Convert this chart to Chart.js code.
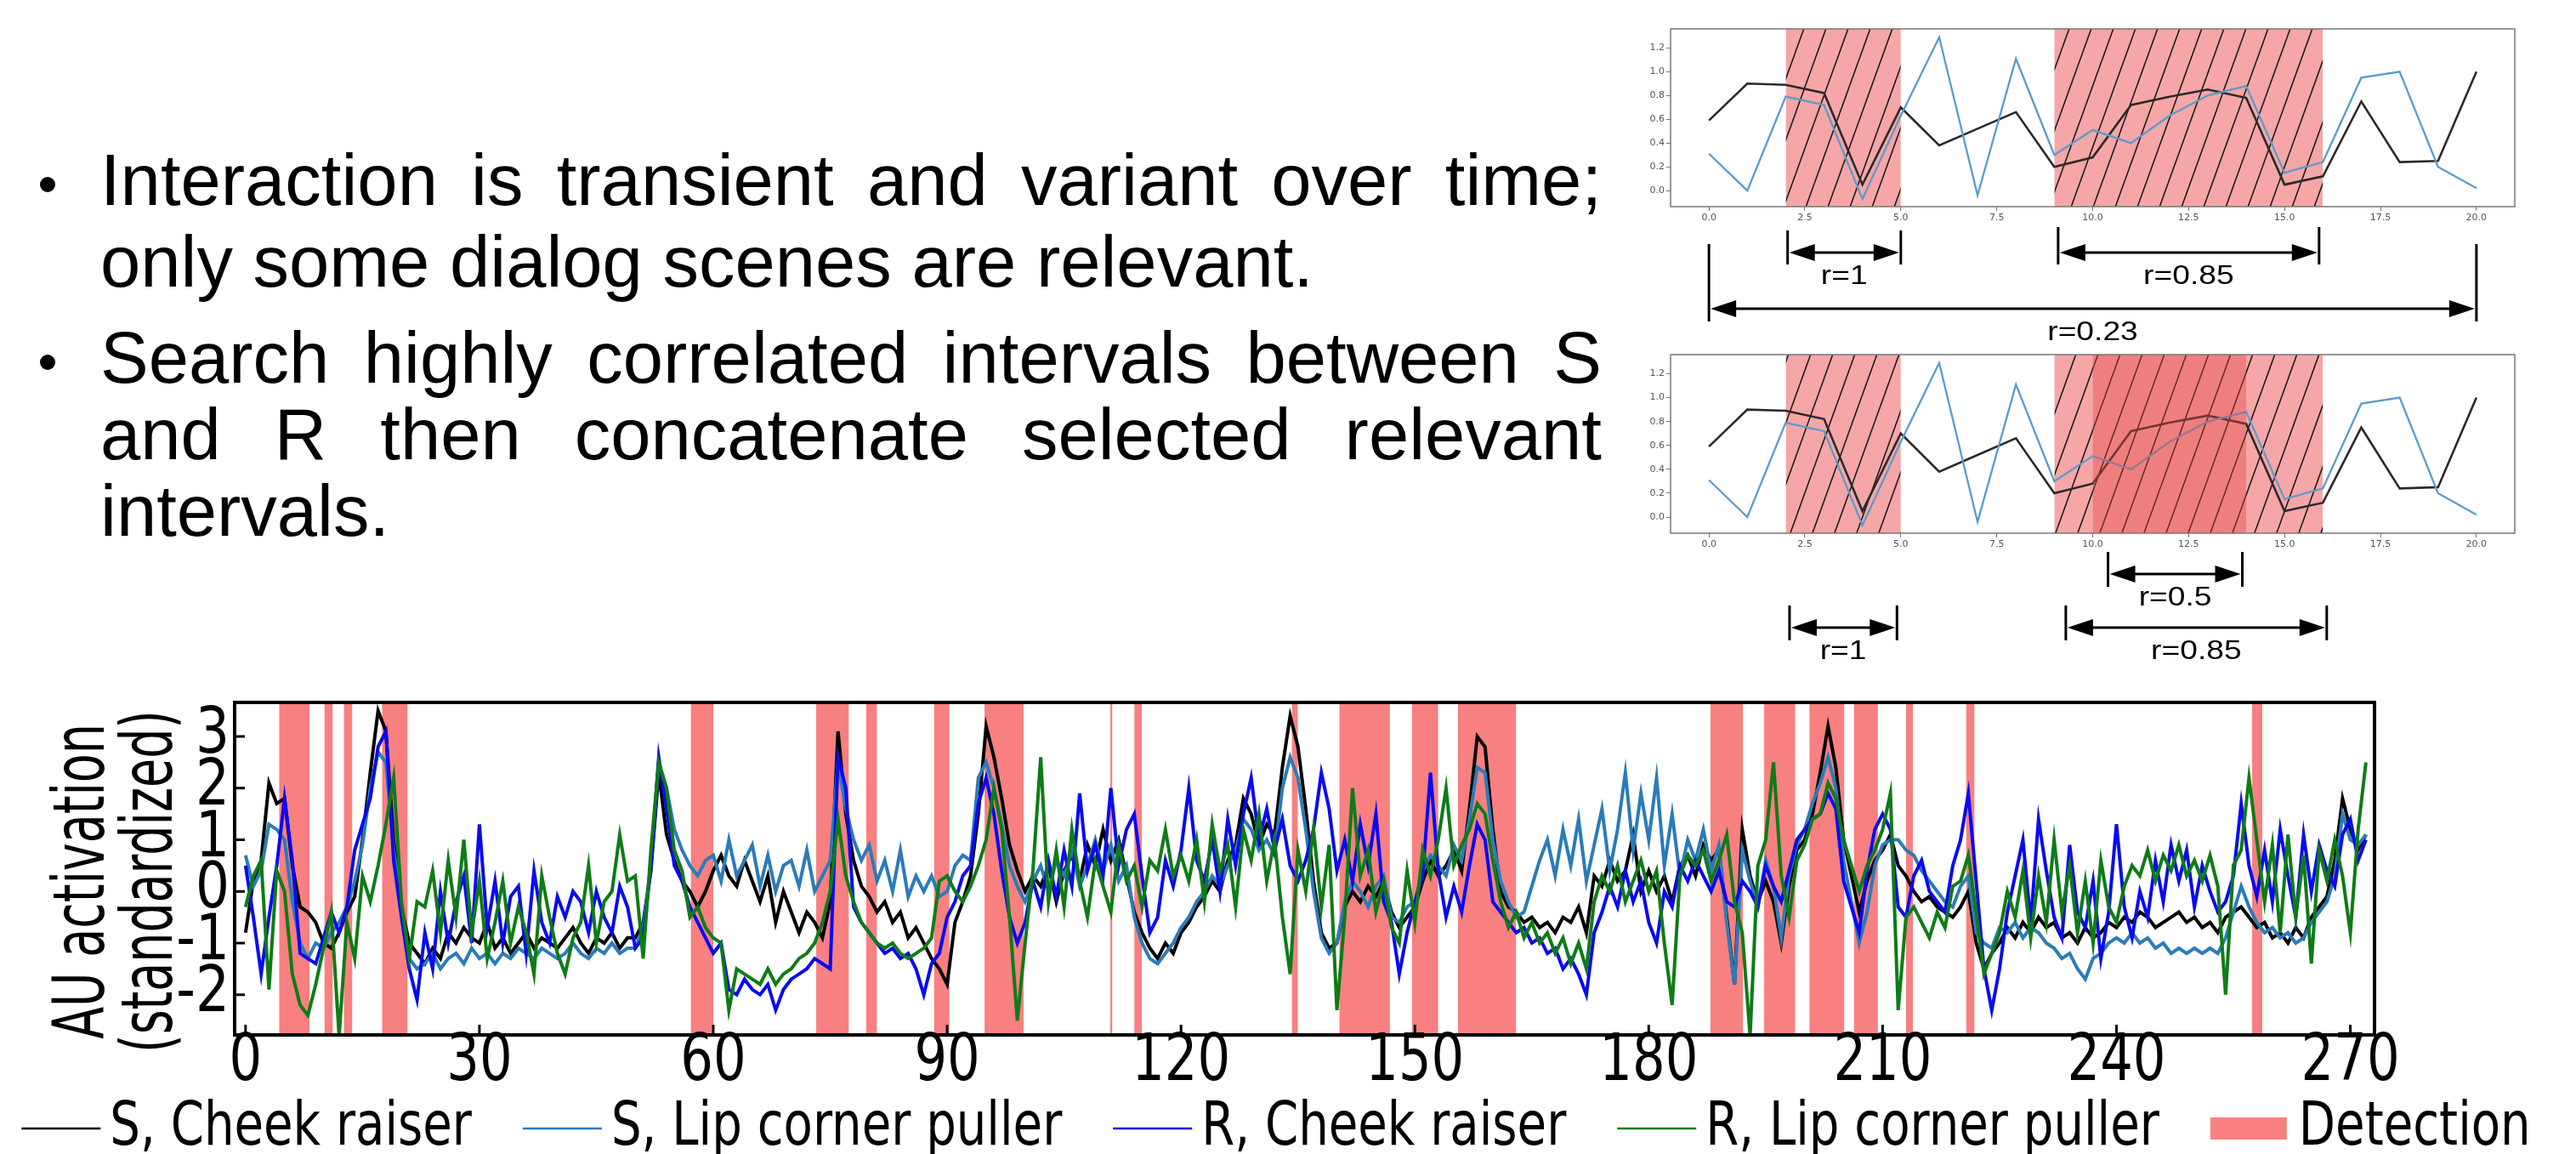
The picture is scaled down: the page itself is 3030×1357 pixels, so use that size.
<!DOCTYPE html>
<html>
<head>
<meta charset="utf-8">
<script src="https://cdn.jsdelivr.net/npm/chart.js@4.4.1/dist/chart.umd.min.js"></script>
<style>
body { margin:0; width:3030px; height:1357px; overflow:hidden; background:#fff; position:relative; }
.txt { position:absolute; left:118px; width:1766px; font-family:'Liberation Sans', Arial, sans-serif; font-size:85px; line-height:96px; text-align:justify; color:#000; }
.txt p { margin:0; position:relative; }
.dot { position:absolute; left:-71px; top:44px; width:18px; height:18px; border-radius:50%; background:#000; }
canvas { position:absolute; }
</style>
</head>
<body>
<div class="txt" style="top:164px"><p><span class="dot"></span>Interaction is transient and variant over time; only some dialog scenes are relevant.</p></div>
<div class="txt" style="top:376px;line-height:90px"><p><span class="dot" style="top:41px"></span>Search highly correlated intervals between S and R then concatenate selected relevant intervals.</p></div>

<canvas id="c1" width="1130" height="405" style="left:1900px;top:0px"></canvas>
<canvas id="c2" width="1130" height="380" style="left:1900px;top:405px"></canvas>
<canvas id="c3" width="3030" height="567" style="left:0px;top:790px"></canvas>

<script>
// ---- small example charts (top right) ----
const smallT = [0,1,2,3,4,5,6,7,8,9,10,11,12,13,14,15,16,17,18,19,20];
const smallS = [0.59,0.90,0.89,0.82,0.05,0.70,0.38,0.52,0.66,0.20,0.28,0.72,0.79,0.85,0.78,0.05,0.12,0.75,0.24,0.25,1.00];
const smallR = [0.31,0.00,0.79,0.72,-0.07,0.63,1.29,-0.04,1.11,0.30,0.51,0.40,0.63,0.80,0.88,0.15,0.24,0.95,1.00,0.20,0.02];
const smallXTicks = [0,2.5,5,7.5,10,12.5,15,17.5,20];
const smallYTicks = [0,0.2,0.4,0.6,0.8,1.0,1.2];
const hatched = [[2,5],[9,16]];
const overlap = [[10,14]];
const arrows1 = [[2.05,5,'r=1'],[9.1,15.9,'r=0.85'],[0,20,'r=0.23']];
const arrows2 = [[10.4,13.9,'r=0.5'],[2.1,4.9,'r=1'],[9.3,16.1,'r=0.85']];

// ---- AU activation (bottom) ----
const xTicks = [0,30,60,90,120,150,180,210,240,270];
const yTicks = [-2,-1,0,1,2,3];
const seriesNames = ['S, Cheek raiser','S, Lip corner puller','R, Cheek raiser','R, Lip corner puller'];
const detection = [[4.3,8.2],[10.1,11.2],[12.6,13.7],[17.5,20.8],[57.1,60.0],[73.2,77.4],[79.6,81.0],[88.3,90.3],[94.8,99.8],[110.9,111.2],[114.0,115.0],[134.2,135.0],[140.3,146.8],[149.6,153.0],[155.5,163.0],[187.9,192.1],[194.8,198.8],[200.6,205.1],[206.3,209.4],[213.0,213.9],[220.7,221.8],[257.4,258.7]];

const sCheek = [
-0.8,0.2,0.6,2.1,1.7,1.8,0.5,-0.3,-0.4,-0.6,
-1.0,-1.1,-0.8,-0.4,-0.1,1.0,2.3,3.5,3.1,1.0,
-0.3,-1.0,-1.2,-1.4,-1.1,-1.3,-0.8,-1.0,-0.7,-0.9,
-1.0,-0.6,-1.1,-0.9,-1.2,-1.0,-0.8,-1.1,-0.9,-1.0,
-1.1,-0.9,-0.7,-1.0,-1.2,-0.9,-1.0,-0.8,-1.1,-0.9,
-0.9,-0.6,0.4,2.3,1.1,0.6,0.2,0.0,-0.3,0.0,
0.4,0.7,0.3,0.1,0.6,0.2,-0.2,0.3,-0.6,0.0,
-0.4,-0.8,-0.4,-0.6,-0.9,-0.2,3.1,1.5,0.6,0.1,
-0.1,-0.4,-0.2,-0.6,-0.4,-0.9,-0.7,-1.0,-1.3,-1.5,
-1.8,-0.6,-0.2,0.3,1.5,3.2,2.6,1.8,0.9,0.4,
0.0,0.3,0.1,0.5,-0.2,0.4,0.7,0.2,0.9,0.5,
1.2,0.6,1.0,0.3,-0.4,-0.8,-1.1,-1.3,-1.0,-1.2,
-0.8,-0.6,-0.3,-0.1,0.2,0.0,0.6,0.9,1.8,1.5,
0.9,1.3,1.1,2.4,3.4,2.8,1.6,0.2,-0.8,-1.1,
-1.0,-0.3,0.0,-0.2,0.1,-0.1,0.2,-0.4,-0.7,-0.5,
-0.3,0.2,0.6,0.3,0.5,0.8,0.4,1.6,3.0,2.8,
1.2,0.0,-0.3,-0.4,-0.6,-0.5,-0.7,-0.6,-0.8,-0.5,
-0.6,-0.3,-0.8,0.3,0.1,0.6,0.2,0.4,1.1,0.0,
0.4,0.0,0.3,-0.2,0.5,0.7,0.3,0.9,0.6,0.8,
-0.5,-1.8,1.2,0.3,-0.2,0.2,-0.2,-1.0,0.1,0.8,
1.0,1.5,2.3,3.2,2.4,1.0,0.3,-0.4,0.2,0.6,
0.8,1.1,0.5,0.3,0.0,-0.2,-0.1,-0.3,-0.4,-0.5,
-0.3,0.0,-1.0,-1.5,-1.2,-1.0,-0.7,-0.9,-0.6,-0.8,
-0.5,-0.7,-0.6,-0.9,-0.8,-1.0,-0.7,-0.9,-0.8,-0.6,
-0.7,-0.5,-0.6,-0.4,-0.5,-0.7,-0.6,-0.5,-0.4,-0.6,
-0.5,-0.7,-0.6,-0.8,-0.5,-0.4,-0.3,-0.5,-0.7,-0.6,
-0.9,-0.8,-1.0,-0.7,-0.9,-0.5,-0.3,-0.1,0.6,1.8,
1.2,0.8,1.1];

const sLip = [
0.7,0.1,0.4,1.3,1.2,1.0,-0.2,-1.0,-1.3,-1.0,
-1.1,-0.8,-0.6,-0.3,0.2,0.9,2.0,2.7,2.5,0.8,
-0.3,-1.3,-1.5,-1.4,-1.2,-1.5,-1.3,-1.2,-1.4,-1.1,
-1.3,-1.2,-1.4,-1.2,-1.3,-1.1,-1.2,-1.3,-1.1,-1.2,
-1.3,-1.2,-1.0,-1.2,-1.3,-1.1,-1.2,-1.0,-1.2,-1.1,
-1.1,-0.7,0.5,2.5,2.0,1.2,0.8,0.5,0.3,0.6,
0.7,0.2,1.0,0.3,0.6,0.9,0.1,0.7,0.0,0.5,
0.6,0.1,0.8,0.0,0.3,0.6,2.5,1.6,1.0,0.6,
0.9,0.2,0.6,0.0,0.8,-0.1,0.3,0.0,0.3,-0.1,
0.0,0.5,0.7,0.6,2.2,2.5,2.0,1.3,0.5,0.1,
-0.2,0.2,0.5,0.0,0.6,0.3,0.8,0.1,0.5,1.0,
0.4,0.9,0.2,0.5,-0.5,-1.0,-1.3,-1.4,-1.2,-1.0,
-0.7,-0.5,-0.2,0.0,0.3,0.1,0.5,0.8,1.4,1.2,
0.8,1.0,0.7,2.0,2.6,2.2,1.2,0.0,-0.9,-1.2,
-1.0,-0.2,0.2,0.0,-0.3,0.1,0.3,-0.5,-0.6,-0.3,
-0.2,0.4,0.7,0.5,0.3,0.9,0.6,1.4,2.4,2.3,
1.0,0.2,-0.2,-0.5,-0.4,0.1,0.6,1.0,0.3,1.2,
0.5,1.4,0.2,0.9,1.6,0.4,1.2,2.3,0.8,1.9,
1.0,2.2,0.5,1.5,0.3,1.0,0.6,1.2,0.4,0.9,
-0.6,-1.8,0.8,0.2,-0.3,0.6,0.1,-0.9,0.3,0.9,
1.2,1.7,2.1,2.6,2.0,0.6,-0.2,-1.0,-0.4,0.5,
0.9,1.0,1.0,0.8,0.7,0.4,0.2,0.0,-0.2,-0.3,
0.1,0.3,-0.8,-1.0,-1.1,-0.7,-0.8,-0.6,-0.9,-0.7,
-0.8,-1.0,-1.1,-1.3,-1.2,-1.5,-1.7,-1.3,-1.2,-1.0,
-0.9,-1.0,-0.8,-1.0,-0.9,-1.1,-1.0,-1.2,-1.1,-1.2,
-1.1,-1.2,-1.1,-1.2,-0.9,-0.4,0.1,-0.3,-0.6,-0.8,
-0.7,-0.9,-0.8,-1.0,-0.9,-0.6,-0.4,-0.2,0.3,1.5,
1.0,0.9,1.1];

const rCheek = [
0.5,-0.5,-1.6,-0.5,0.5,1.8,0.6,-1.2,-1.3,-1.4,
-0.9,-0.4,-0.8,-0.3,0.8,1.3,1.8,2.8,3.1,0.6,
-0.5,-1.5,-2.1,-0.8,-1.5,0.0,-1.0,-0.2,0.3,-1.0,
1.3,-0.7,0.2,-1.0,-0.1,0.1,-1.2,0.4,-0.6,-1.0,
-0.1,-0.5,0.0,-0.2,-0.8,0.0,-0.5,-0.8,0.1,-0.3,
-1.1,-0.9,0.5,2.6,1.6,0.5,0.2,-0.3,-0.6,-0.9,
-1.2,-1.0,-1.9,-2.0,-1.7,-1.9,-2.0,-1.8,-2.3,-1.9,
-1.7,-1.6,-1.5,-1.3,-1.4,-1.5,2.6,2.0,-0.3,-0.6,
-0.8,-1.0,-1.2,-1.1,-1.3,-1.2,-1.5,-2.0,-1.4,-1.2,
-0.5,-0.2,0.3,0.5,1.7,2.2,1.5,0.4,-0.5,-1.0,
-0.6,0.2,-0.3,0.6,-0.1,0.8,0.1,1.9,0.4,0.9,
0.3,2.0,0.5,1.2,1.5,0.3,-0.8,-0.5,0.6,0.1,
0.8,2.0,0.6,0.2,1.0,0.0,1.4,0.5,1.5,2.2,
1.0,1.6,0.8,1.4,0.5,0.2,0.6,1.2,2.3,1.6,
0.4,1.0,0.2,1.3,0.5,1.5,-0.2,-0.6,-1.6,-0.8,
-0.2,0.3,2.3,0.4,-0.5,0.1,-0.4,0.5,1.3,1.0,
-0.2,-0.4,-0.6,-0.8,-0.7,-1.0,-0.9,-1.2,-1.1,-1.5,
-1.3,-1.6,-2.0,-0.8,-0.4,0.1,-0.3,0.4,-0.2,0.2,
-0.6,-1.0,0.0,-0.3,0.5,0.2,0.6,0.3,0.0,0.4,
-0.2,-0.3,0.2,0.0,-0.3,0.5,0.1,-0.2,0.4,1.0,
1.2,1.4,1.5,1.9,1.6,0.2,-0.3,-0.8,0.4,1.2,
1.5,1.2,-0.3,-0.5,0.3,0.6,0.0,-0.2,-0.4,0.5,
1.0,1.9,0.2,-1.5,-2.3,-1.5,-0.4,0.3,1.0,-0.6,
1.4,0.4,-0.5,-0.9,0.9,-0.4,-0.7,0.2,-1.3,-0.4,
1.3,-0.3,-0.9,0.0,-0.5,0.6,-0.2,0.9,0.2,0.8,
-0.3,0.5,0.0,-0.4,-0.2,0.3,1.7,0.5,-0.1,0.8,
-0.2,1.2,0.3,-0.5,1.1,0.0,0.9,0.4,0.1,1.1,
1.4,0.6,1.0];

const rLip = [
-0.3,0.3,0.6,-1.9,0.4,0.0,-1.6,-2.2,-2.4,-1.8,
-1.1,-0.4,-2.8,-0.6,-1.3,0.3,-0.2,0.5,1.3,2.2,
-0.2,-1.3,-0.2,-0.3,0.4,-0.8,0.6,-0.5,1.0,-0.8,
0.2,-1.3,-0.6,0.2,-1.0,-0.3,-0.8,-1.6,0.3,-0.5,
-1.2,-1.6,-0.9,-0.6,0.5,-1.0,-0.2,0.0,1.1,0.2,
0.3,-1.3,0.8,2.5,2.0,0.8,0.4,-0.5,-0.3,-0.7,
-0.9,-1.0,-2.3,-1.5,-1.6,-1.7,-1.8,-1.5,-1.8,-1.6,
-1.5,-1.3,-1.2,-1.0,-0.6,0.0,1.4,0.3,-0.2,-0.6,
-0.8,-1.0,-1.1,-1.0,-1.2,-1.3,-1.2,-1.1,-0.9,0.2,
0.3,0.0,-0.2,0.1,0.5,1.0,2.0,1.2,-0.5,-2.5,
-1.0,0.4,2.6,-0.2,0.8,-0.3,1.2,0.2,-0.5,0.6,
0.1,-0.4,0.9,0.2,0.5,-0.3,0.6,0.4,1.2,0.3,
0.7,0.2,1.0,-0.2,1.3,0.4,0.9,-0.3,1.2,0.6,
1.5,0.2,1.0,-0.5,-1.6,0.8,0.0,1.2,-0.3,0.9,
-2.3,-0.5,2.0,0.3,0.8,-0.4,0.2,-0.7,-1.0,0.4,
-0.6,0.8,0.3,1.0,2.0,0.5,0.9,1.2,1.7,1.5,
0.6,-0.2,-0.7,-0.4,-0.9,-0.6,-1.0,-0.8,-1.2,-0.9,
-1.4,-1.0,-1.5,-0.2,0.3,0.0,0.5,-0.2,0.2,0.6,
0.0,0.4,-1.0,-2.2,0.3,0.7,0.5,0.8,0.2,0.6,
1.1,-0.2,-0.8,-2.8,0.5,1.0,2.5,0.3,-0.5,0.6,
0.9,1.4,1.5,2.1,1.8,1.0,0.5,0.0,0.5,0.8,
1.2,1.9,-2.3,-0.5,-0.3,-0.6,-0.9,-0.4,-0.7,0.1,
0.2,0.7,-0.4,-1.6,-1.2,-0.8,0.0,-0.5,0.4,-0.9,
0.3,-0.6,1.0,-0.4,0.5,-0.8,0.2,-1.0,0.6,-0.3,
-0.6,0.1,0.5,0.3,0.8,0.2,0.7,0.4,0.9,0.3,
0.6,0.2,0.7,0.1,-2.0,0.5,0.8,2.2,1.0,-0.2,
0.9,-0.8,1.1,-0.5,0.7,-1.4,0.8,0.2,1.0,0.3,
-0.8,1.2,2.5];

Chart.defaults.font.family = "'DejaVu Sans', sans-serif";
Chart.defaults.color = '#000';

function hatchPattern(bg) {
  const w = 26, h = 72;
  const t = document.createElement('canvas');
  t.width = w; t.height = h;
  const g = t.getContext('2d');
  g.fillStyle = bg; g.fillRect(0, 0, w, h);
  g.strokeStyle = '#1a1a1a'; g.lineWidth = 1.6;
  g.beginPath();
  for (let k = -1; k <= 1; k++) { g.moveTo(k * w, h); g.lineTo(k * w + w, 0); }
  g.stroke();
  return g.createPattern(t, 'repeat');
}

function bandSets(spans, top, color, order) {
  return spans.map(s => ({
    data: [{x: s[0], y: top}, {x: s[1], y: top}],
    borderWidth: 0, pointRadius: 0, fill: 'start', backgroundColor: color, order: order
  }));
}

function arrowPlugin(list, rows) {
  return {
    id: 'arrows',
    afterDraw(chart) {
      const ctx = chart.ctx, xs = chart.scales.x;
      list.forEach((a, i) => {
        const r = rows[i];
        const x1 = xs.getPixelForValue(a[0]), x2 = xs.getPixelForValue(a[1]);
        ctx.save();
        ctx.strokeStyle = '#000'; ctx.fillStyle = '#000'; ctx.lineWidth = 3;
        ctx.beginPath();
        ctx.moveTo(x1, r.top); ctx.lineTo(x1, r.bottom);
        ctx.moveTo(x2, r.top); ctx.lineTo(x2, r.bottom);
        ctx.moveTo(x1 + 20, r.y); ctx.lineTo(x2 - 20, r.y);
        ctx.stroke();
        ctx.beginPath();
        ctx.moveTo(x1 + 2, r.y); ctx.lineTo(x1 + 32, r.y - 10); ctx.lineTo(x1 + 32, r.y + 10); ctx.closePath();
        ctx.moveTo(x2 - 2, r.y); ctx.lineTo(x2 - 32, r.y - 10); ctx.lineTo(x2 - 32, r.y + 10); ctx.closePath();
        ctx.fill();
        ctx.translate((x1 + x2) / 2, r.y + 28);
        ctx.scale(1.2, 1);
        ctx.font = "31px 'Liberation Sans', Arial";
        ctx.textAlign = 'center'; ctx.textBaseline = 'middle';
        ctx.fillText(a[2], 0, 0);
        ctx.restore();
      });
    }
  };
}

const boxPlugin = {
  id: 'box',
  afterDatasetsDraw(chart) {
    const {ctx, chartArea: a} = chart;
    ctx.save(); ctx.strokeStyle = '#777'; ctx.lineWidth = 1.5;
    ctx.strokeRect(a.left, a.top, a.right - a.left, a.bottom - a.top);
    ctx.restore();
  }
};

function smallChart(id, pad, extra, arrows, rows) {
  const pink = hatchPattern('rgb(246,166,166)');
  const sets = [
    {data: smallT.map((t, i) => ({x: t, y: smallS[i]})), borderColor: '#2a2a2a', borderWidth: 2.6, pointRadius: 0, order: 2},
    {data: smallT.map((t, i) => ({x: t, y: smallR[i]})), borderColor: '#5b9bcb', borderWidth: 2.3, pointRadius: 0, order: 1}
  ].concat(bandSets(hatched, 1.36, pink, 10)).concat(extra ? bandSets(overlap, 1.36, 'rgba(230,70,70,0.4)', -1) : []);
  const tickStyle = {font: {size: 11}, color: '#555', padding: 2, maxRotation: 0, autoSkip: false, callback: v => v.toFixed(1)};
  return new Chart(document.getElementById(id), {
    type: 'line',
    data: {datasets: sets},
    options: {
      responsive: false, animation: false, devicePixelRatio: 1,
      layout: {padding: pad},
      plugins: {legend: {display: false}, tooltip: {enabled: false}},
      scales: {
        x: {type: 'linear', min: -1, max: 21, afterBuildTicks: s => { s.ticks = smallXTicks.map(v => ({value: v})); },
            ticks: tickStyle, grid: {drawOnChartArea: false, tickLength: 5, color: '#777'}, border: {display: false},
            afterFit: s => { s.height = 20; }},
        y: {type: 'linear', min: -0.135, max: 1.36, afterBuildTicks: s => { s.ticks = smallYTicks.map(v => ({value: v})); },
            ticks: tickStyle, grid: {drawOnChartArea: false, tickLength: 5, color: '#777'}, border: {display: false},
            afterFit: s => { s.width = 65; }}
      }
    },
    plugins: [boxPlugin, arrowPlugin(arrows, rows)]
  });
}

smallChart('c1', {top: 34, right: 72, bottom: 142, left: 0}, false, arrows1,
  [{top: 271, bottom: 311, y: 297}, {top: 267, bottom: 311, y: 297}, {top: 287, bottom: 378, y: 363}]);
smallChart('c2', {top: 12, right: 72, bottom: 138, left: 0}, true, arrows2,
  [{top: 244, bottom: 285, y: 270}, {top: 307, bottom: 348, y: 333}, {top: 307, bottom: 348, y: 333}]);

// ---- bottom chart ----
const colors = ['#000000', '#2b7bb9', '#0a0af0', '#0e7c16'];
const seriesVals = [sCheek, sLip, rCheek, rLip];
const YMAX = 3.66;
const bandColor = '#f88080';

const auSets = seriesVals.map((vals, k) => ({
  label: seriesNames[k],
  data: vals.map((v, i) => ({x: i, y: v})),
  borderColor: colors[k], borderWidth: 4, pointRadius: 0, tension: 0,
  order: 4 - k
}));
const detSets = bandSets(detection, YMAX, bandColor, 10);
detSets[0].label = 'Detection';
detSets[0].legendFill = bandColor;

// text in the picture is narrower than the font, so it is drawn with a horizontal squeeze
function squeezed(ctx, text, x, y, size, sx, align, rot) {
  ctx.save();
  ctx.translate(x, y);
  if (rot) ctx.rotate(rot);
  ctx.scale(sx, 1);
  ctx.font = size + "px 'DejaVu Sans'";
  ctx.textAlign = align; ctx.textBaseline = 'middle';
  ctx.fillStyle = '#000';
  ctx.fillText(text, 0, 0);
  ctx.restore();
}

const framePlugin = {
  id: 'frame',
  afterDatasetsDraw(chart) {
    const {ctx, chartArea: a, scales: {x, y}} = chart;
    ctx.save(); ctx.strokeStyle = '#000'; ctx.lineWidth = 4;
    ctx.strokeRect(a.left, a.top, a.right - a.left, a.bottom - a.top);
    ctx.lineWidth = 3; ctx.beginPath();
    xTicks.forEach(v => { const p = x.getPixelForValue(v); ctx.moveTo(p, a.bottom); ctx.lineTo(p, a.bottom - 12); });
    yTicks.forEach(v => { const p = y.getPixelForValue(v); ctx.moveTo(a.left, p); ctx.lineTo(a.left + 12, p); });
    ctx.stroke(); ctx.restore();
  },
  afterDraw(chart) {
    const {ctx, chartArea: a, scales: {x, y}} = chart;
    xTicks.forEach(v => squeezed(ctx, String(v), x.getPixelForValue(v), a.bottom + 33, 76, 0.8, 'center'));
    yTicks.forEach(v => squeezed(ctx, String(v), a.left - 6, y.getPixelForValue(v), 74, 0.85, 'right'));
    const cy = (a.top + a.bottom) / 2 + 15;
    squeezed(ctx, 'AU activation', 100, cy, 84, 0.66, 'center', -Math.PI / 2);
    squeezed(ctx, '(standardized)', 180, cy, 84, 0.66, 'center', -Math.PI / 2);

    // legend row
    const items = chart.data.datasets.filter(d => d.label);
    const fs = 72, sx = 0.78, line = 93, gap = 11, sep = 60, ly = a.bottom + 110;
    ctx.save(); ctx.font = fs + "px 'DejaVu Sans'";
    const widths = items.map(d => ctx.measureText(d.label).width * sx);
    ctx.restore();
    const total = widths.reduce((s, w) => s + w, 0) + items.length * (line + gap) + (items.length - 1) * sep;
    let cx = 1501 - total / 2;
    items.forEach((d, i) => {
      ctx.save();
      if (d.legendFill) {
        ctx.fillStyle = d.legendFill;
        ctx.fillRect(cx, ly - 13, line - 3, 26);
      } else {
        ctx.strokeStyle = d.borderColor; ctx.lineWidth = 2.5;
        ctx.beginPath(); ctx.moveTo(cx, ly); ctx.lineTo(cx + line, ly); ctx.stroke();
      }
      ctx.restore();
      squeezed(ctx, d.label, cx + line + gap, ly, fs, sx, 'left');
      cx += line + gap + widths[i] + sep;
    });
  }
};

new Chart(document.getElementById('c3'), {
  type: 'line',
  data: {datasets: auSets.concat(detSets)},
  options: {
    responsive: false, animation: false, devicePixelRatio: 1,
    layout: {padding: {top: 36, left: 0, right: 0, bottom: 140}},
    plugins: {tooltip: {enabled: false}, legend: {display: false}},
    scales: {
      x: {type: 'linear', min: -1.4, max: 273.1,
          afterBuildTicks: s => { s.ticks = xTicks.map(v => ({value: v})); },
          ticks: {display: false}, grid: {display: false, drawTicks: false}, border: {display: false},
          afterFit: s => { s.height = 0; }},
      y: {type: 'linear', min: -2.78, max: 3.66,
          afterBuildTicks: s => { s.ticks = yTicks.map(v => ({value: v})); },
          ticks: {display: false}, grid: {display: false, drawTicks: false}, border: {display: false},
          afterFit: s => { s.width = 276; }},
      y2: {position: 'right', display: true, grid: {display: false}, ticks: {display: false}, border: {display: false},
           afterFit: s => { s.width = 237; }}
    }
  },
  plugins: [framePlugin]
});
</script>
</body>
</html>
